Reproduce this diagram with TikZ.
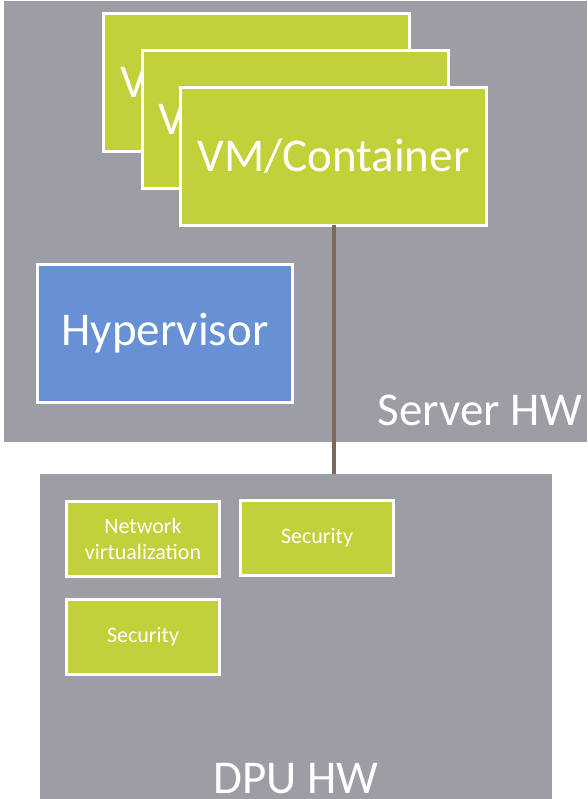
\documentclass[tikz,border=0pt]{standalone}
\usepackage{fontspec}
\setmainfont{Carlito}
\definecolor{hwgrey}{HTML}{9D9DA5}
\definecolor{vmgreen}{HTML}{C2D03A}
\definecolor{hvblue}{HTML}{6890D5}
\definecolor{linkbrown}{HTML}{7B6A5C}
\begin{document}
\begin{tikzpicture}[x=1pt,y=-1pt,
  hwbox/.style={rectangle,fill=hwgrey,draw=none,inner sep=0pt},
  vmbox/.style={rectangle,fill=vmgreen,draw=white,line width=3pt,inner sep=0pt,
    minimum width=306pt,minimum height=138pt,text=white,font=\fontsize{47}{50}\selectfont},
  hvbox/.style={rectangle,fill=hvblue,draw=white,line width=3pt,inner sep=0pt,
    minimum width=255pt,minimum height=138pt,text=white,font=\fontsize{47}{50}\selectfont},
  fnbox/.style={rectangle,fill=vmgreen,draw=white,line width=3pt,inner sep=0pt,
    minimum width=153pt,minimum height=75pt,text=white,align=center,
    font=\fontsize{22}{26}\selectfont},
  hwlabel/.style={text=white,inner sep=0pt,font=\fontsize{47}{50}\selectfont}]
\useasboundingbox (0,0) rectangle (587,799);
\node[hwbox,minimum width=583pt,minimum height=441pt] (server) at (295.5,221.5) {};
\node[hwbox,minimum width=512pt,minimum height=326pt] (dpu) at (296,637) {};
\node[vmbox] (vm1) at (256.5,82.5) {VM/Container};
\node[vmbox] (vm2) at (295,119.5) {VM/Container};
\node[vmbox] (vm3) at (333.5,156.5) {VM/Container};
\node[hvbox] (hv) at (165,333.5) {Hypervisor};
\node[hwlabel,anchor=base east] (serverlbl) at (582,425) {Server HW};
\node[hwlabel,anchor=base] (dpulbl) at (296,793) {DPU HW};
\node[fnbox] (net) at (143,539) {Network\\virtualization};
\node[fnbox] (sec1) at (317,538) {Security};
\node[fnbox] (sec2) at (143,637) {Security};
\draw[linkbrown,line width=4pt] ([yshift=1.5pt]vm3.south) -- (vm3.south |- dpu.north);
\end{tikzpicture}
\end{document}
